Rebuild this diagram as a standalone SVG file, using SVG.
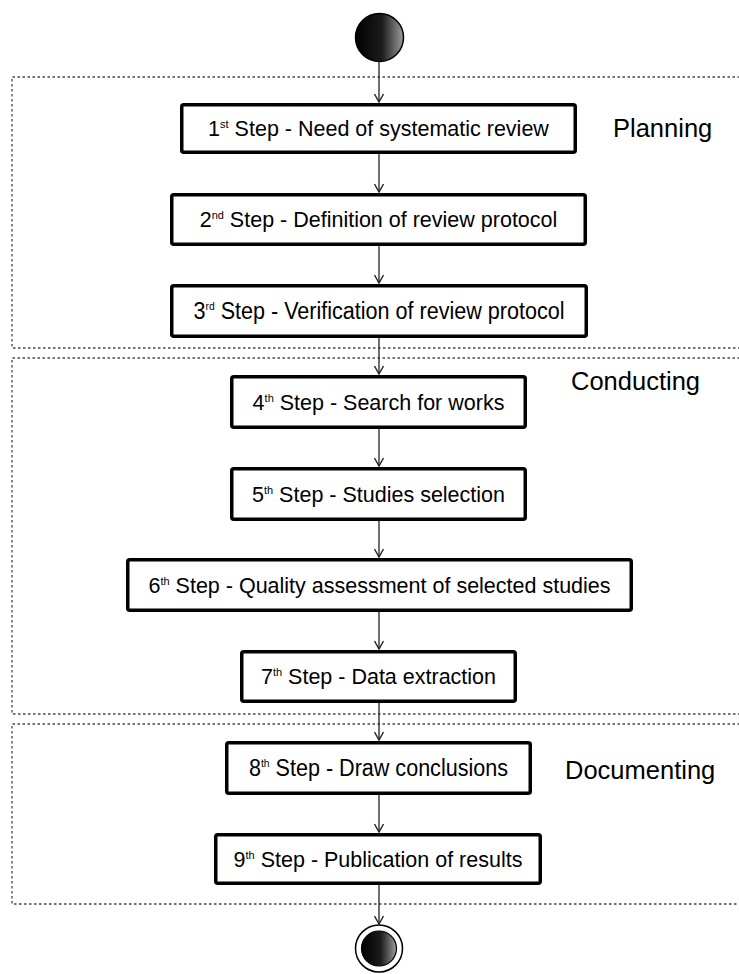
<svg xmlns="http://www.w3.org/2000/svg" width="739" height="974" viewBox="0 0 739 974">
<style>
.bg{fill:#fff}
.lane{fill:none;stroke:#444;stroke-width:1.3;stroke-dasharray:2.5 2.5}
.box{fill:#fff;stroke:#000;stroke-width:3.5}
.t{font-family:"Liberation Sans",Arial,sans-serif;font-size:21.5px;fill:#000;text-anchor:middle}
.sup{font-size:11px}
.lbl{font-family:"Liberation Sans",Arial,sans-serif;font-size:25.5px;fill:#000}
.conn{fill:none;stroke:#222;stroke-width:1.3}
</style>
<defs>
<linearGradient id="g" x1="0" y1="0" x2="1" y2="0">
<stop offset="0" stop-color="#000"/>
<stop offset="0.55" stop-color="#1c1c1c"/>
<stop offset="1" stop-color="#9c9c9c"/>
</linearGradient>
<marker id="arr" viewBox="0 0 10 10" refX="9" refY="5" markerWidth="10" markerHeight="10" markerUnits="userSpaceOnUse" orient="auto">
<path d="M1,0.5 L9,5 L1,9.5" fill="none" stroke="#222" stroke-width="1.4"/>
</marker>
</defs>
<rect class="bg" x="0" y="0" width="739" height="974"/>

<g id="lanes">
<path class="lane" d="M745,77 H12 V348 H745"/>
<path class="lane" d="M745,358 H12 V714 H745"/>
<path class="lane" d="M745,724 H12 V904 H745"/>
<text class="lbl" x="613" y="137">Planning</text>
<text class="lbl" x="571" y="390">Conducting</text>
<text class="lbl" x="565" y="779">Documenting</text>
</g>

<g id="connectors">
<line class="conn" x1="379" y1="62" x2="379" y2="102" marker-end="url(#arr)"/>
<line class="conn" x1="379" y1="154" x2="379" y2="192" marker-end="url(#arr)"/>
<line class="conn" x1="379" y1="246" x2="379" y2="283" marker-end="url(#arr)"/>
<line class="conn" x1="379" y1="338" x2="379" y2="374" marker-end="url(#arr)"/>
<line class="conn" x1="379" y1="429" x2="379" y2="466" marker-end="url(#arr)"/>
<line class="conn" x1="379" y1="521" x2="379" y2="557" marker-end="url(#arr)"/>
<line class="conn" x1="379" y1="612" x2="379" y2="649" marker-end="url(#arr)"/>
<line class="conn" x1="379" y1="703" x2="379" y2="740" marker-end="url(#arr)"/>
<line class="conn" x1="379" y1="795" x2="379" y2="832" marker-end="url(#arr)"/>
<line class="conn" x1="379" y1="885" x2="379" y2="924" marker-end="url(#arr)"/>
</g>

<g id="start">
<circle cx="379.5" cy="37.5" r="24" fill="url(#g)" stroke="#000" stroke-width="1.5"/>
</g>

<g id="step1">
<rect class="box" x="181.75" y="104.75" width="393.5" height="47.5" rx="2"/>
<text class="t" x="378.5" y="136">1<tspan class="sup" dy="-8">st</tspan><tspan dy="8"> Step - Need of systematic review</tspan></text>
</g>
<g id="step2">
<rect class="box" x="171.75" y="194.75" width="413.5" height="49.5" rx="2"/>
<text class="t" x="378.5" y="227">2<tspan class="sup" dy="-8">nd</tspan><tspan dy="8"> Step - Definition of review protocol</tspan></text>
</g>
<g id="step3">
<rect class="box" x="171.75" y="285.75" width="414.5" height="50.5" rx="2"/>
<text class="t" x="379" y="318.5" style="font-size:23px" textLength="371" lengthAdjust="spacingAndGlyphs">3<tspan class="sup" dy="-9">rd</tspan><tspan dy="9"> Step - Verification of review protocol</tspan></text>
</g>
<g id="step4">
<rect class="box" x="231.75" y="376.75" width="293.5" height="50.5" rx="2"/>
<text class="t" x="378.5" y="409.5">4<tspan class="sup" dy="-8">th</tspan><tspan dy="8"> Step - Search for works</tspan></text>
</g>
<g id="step5">
<rect class="box" x="231.75" y="468.75" width="293.5" height="50.5" rx="2"/>
<text class="t" x="378.5" y="501.5">5<tspan class="sup" dy="-8">th</tspan><tspan dy="8"> Step - Studies selection</tspan></text>
</g>
<g id="step6">
<rect class="box" x="127.75" y="559.75" width="503.5" height="50.5" rx="2"/>
<text class="t" x="379.5" y="592.5">6<tspan class="sup" dy="-8">th</tspan><tspan dy="8"> Step - Quality assessment of selected studies</tspan></text>
</g>
<g id="step7">
<rect class="box" x="241.75" y="651.75" width="273.5" height="49.5" rx="2"/>
<text class="t" x="378.5" y="684">7<tspan class="sup" dy="-8">th</tspan><tspan dy="8"> Step - Data extraction</tspan></text>
</g>
<g id="step8">
<rect class="box" x="226.75" y="742.75" width="303.5" height="50.5" rx="2"/>
<text class="t" x="378.5" y="776" style="font-size:23px" textLength="259" lengthAdjust="spacingAndGlyphs">8<tspan class="sup" dy="-9">th</tspan><tspan dy="9"> Step - Draw conclusions</tspan></text>
</g>
<g id="step9">
<rect class="box" x="215.75" y="834.75" width="324.5" height="48.5" rx="2"/>
<text class="t" x="378" y="866.5">9<tspan class="sup" dy="-8">th</tspan><tspan dy="8"> Step - Publication of results</tspan></text>
</g>

<g id="end">
<circle cx="379" cy="948.5" r="23.5" fill="#fff" stroke="#000" stroke-width="1.5"/>
<circle cx="379" cy="948.5" r="17.5" fill="url(#g)" stroke="#000" stroke-width="1.2"/>
</g>
</svg>
